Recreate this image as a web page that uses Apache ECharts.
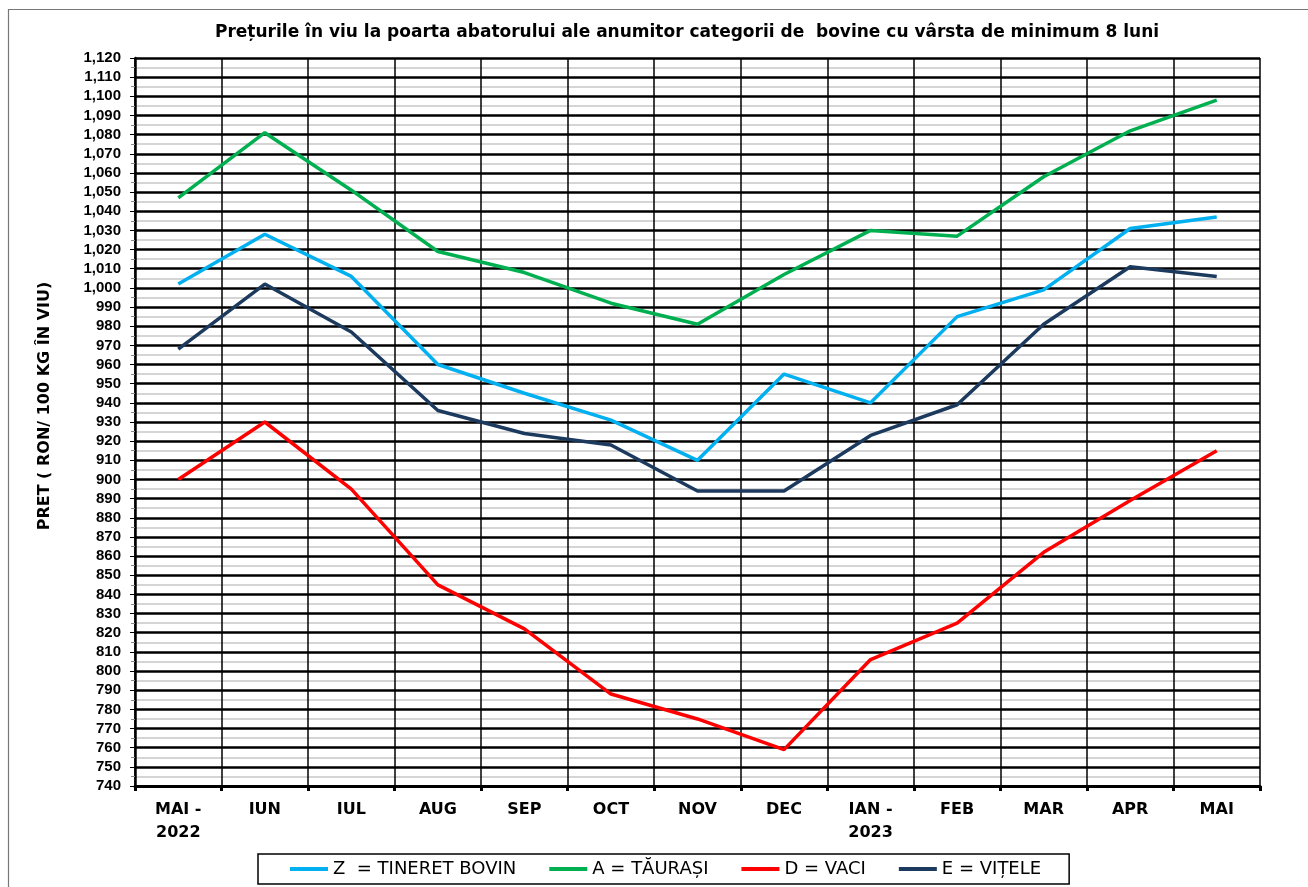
<!DOCTYPE html>
<html>
<head>
<meta charset="utf-8">
<script src="https://cdn.jsdelivr.net/npm/echarts@6/dist/echarts.min.js"></script>
<style>
html,body{margin:0;padding:0;background:#fff;}
#c{width:1308px;height:887px;}
</style>
</head>
<body>
<div id="c"></div>
<script>
var categories = ['MAI -\n2022','IUN','IUL','AUG','SEP','OCT','NOV','DEC','IAN -\n2023','FEB','MAR','APR','MAI'];
var seriesNames = ['Z  = TINERET BOVIN','A = TĂURAȘI','D = VACI','E = VIȚELE'];
var valuesZ = [1002, 1028, 1006, 960, 945, 931, 910, 955, 940, 985, 999, 1031, 1037];
var valuesA = [1047, 1081, 1051, 1019, 1008, 992, 981, 1007, 1030, 1027, 1058, 1082, 1098];
var valuesD = [900, 930, 895, 845, 822, 788, 775, 759, 806, 825, 862, 889, 915];
var valuesE = [968, 1002, 977, 936, 924, 918, 894, 894, 923, 939, 981, 1011, 1006];
var colors = ['#00b0f0','#00b050','#ff0000','#1c3a5e'];
var yMin = 740, yMax = 1120, yStep = 10;
var yTitle = 'PRET ( RON/ 100 KG ÎN VIU)';

var chart = echarts.init(document.getElementById('c'));
var font = 'DejaVu Sans, Verdana, sans-serif';
var fontL = 'Liberation Sans, Arial, sans-serif';
function mk(name, data, color){
  return {name:name, type:'line', data:data, symbol:'none', smooth:false,
    lineStyle:{color:color, width:3.5}, itemStyle:{color:color}, z:5};
}
chart.setOption({
  backgroundColor:'#fff',
  animation:false,
  textStyle:{fontFamily:font},
  graphic:[
    {type:'rect', shape:{x:8.5,y:9.5,width:1310,height:890}, style:{fill:'none',stroke:'#777',lineWidth:1.2}, silent:true},
    {type:'text', x:45, y:406, rotation:Math.PI/2, silent:true,
      style:{text:yTitle, align:'center', verticalAlign:'middle', fill:'#000',
        font:'bold 16px DejaVu Sans, Verdana, sans-serif'}}
  ],
  title:{text:'Prețurile în viu la poarta abatorului ale anumitor categorii de  bovine cu vârsta de minimum 8 luni',
    left:210, top:19, textStyle:{fontFamily:font, fontSize:17, fontWeight:'bold', color:'#000'}},
  grid:{left:135, right:48, top:58, bottom:101, containLabel:false},
  legend:{bottom:3, left:258, data:seriesNames, itemWidth:38, itemHeight:4, itemGap:33,
    icon:'rect', borderColor:'#000', borderWidth:1.5, padding:[6,28,6,32],
    textStyle:{fontFamily:font, fontSize:18, color:'#000'}},
  xAxis:{type:'category', data:categories, boundaryGap:true,
    axisLine:{lineStyle:{color:'#000', width:3}},
    axisTick:{show:true, length:5, lineStyle:{color:'#000', width:3}},
    axisLabel:{fontFamily:font, fontSize:16, fontWeight:'bold', color:'#000', margin:12, lineHeight:23, interval:0},
    splitLine:{show:true, lineStyle:{color:'#000', width:1.5}}},
  yAxis:{type:'value', min:yMin, max:yMax, interval:yStep,
    axisLine:{show:true, lineStyle:{color:'#000', width:2.5}},
    axisTick:{show:true, length:5, lineStyle:{color:'#000', width:1}},
    minorTick:{show:true, splitNumber:2, length:4, lineStyle:{color:'#888', width:1}},
    axisLabel:{fontFamily:fontL, fontSize:15, fontWeight:'bold', color:'#000', margin:14,
      formatter:function(v){return v.toLocaleString('en-US');}},
    splitLine:{show:true, lineStyle:{color:'#000', width:2.5}},
    minorSplitLine:{show:true, lineStyle:{color:'#c8c8c8', width:1.5}}},
  series:[mk(seriesNames[0], valuesZ, colors[0]), mk(seriesNames[1], valuesA, colors[1]),
          mk(seriesNames[2], valuesD, colors[2]), mk(seriesNames[3], valuesE, colors[3])]
});
</script>
</body>
</html>
